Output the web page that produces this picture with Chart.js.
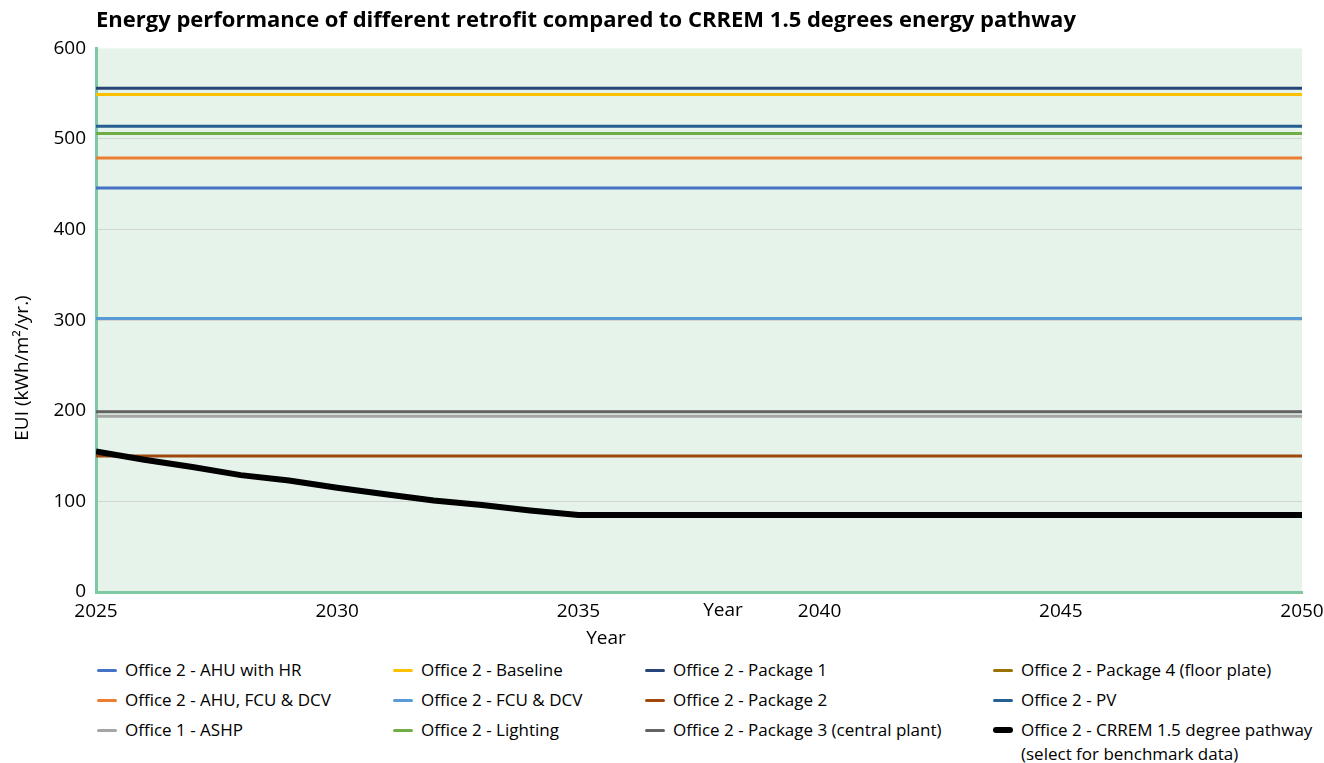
<!DOCTYPE html>
<html>
<head>
<meta charset="utf-8">
<script src="https://cdn.jsdelivr.net/npm/chart.js@4.4.1/dist/chart.umd.min.js"></script>
<style>
  body { margin: 0; background: #fff; font-family: "Open Sans", sans-serif; }
  #wrap { position: relative; width: 1324px; height: 763px; }
  #chart { position: absolute; left: 0; top: 0; }
  #legend { position: absolute; left: 97px; top: 658px; display: grid;
            grid-template-columns: 296px 252px 348px 330px; row-gap: 6px; grid-auto-flow: column;
            grid-template-rows: repeat(3, 24px); font-size: 17px; color: #000; }
  .item { display: flex; align-items: flex-start; white-space: nowrap; line-height: 24px; }
  .swatch { display: inline-block; width: 20px; height: 3px; margin: 11px 8px 0 0; border-radius: 2px; flex: none; }
</style>
</head>
<body>
<div id="wrap">
  <canvas id="chart" width="1324" height="652"></canvas>
  <div id="legend"></div>
</div>
<script>
// years for the flat retrofit lines (constant across the period)
const flatYears = [2025, 2050];

const ahuWithHr = [446, 446];
const ahuFcuDcv = [479, 479];
const office1Ashp = [194, 194];
const baseline = [549, 549];
const fcuDcv = [302, 302];
const lighting = [506, 506];
const package1 = [556, 556];
const package2 = [150, 150];
const package3 = [199, 199];
const package4 = [];            // not visible in the picture
const pv = [514, 514];

// CRREM 1.5 degree pathway
const crremYears = [2025, 2026, 2027, 2028, 2029, 2030, 2031, 2032, 2033, 2034, 2035, 2050];
const crremValues = [155, 146, 138, 129, 123, 115, 108, 101, 96, 90, 85, 85];

const yTicks = [0, 100, 200, 300, 400, 500, 600];
const xTicks = [2025, 2030, 2035, 2040, 2045, 2050];

const toPoints = (xs, ys) => ys.map((y, i) => ({ x: xs[i], y }));

const series = [
    { label: 'Office 2 - AHU with HR', data: toPoints(flatYears, ahuWithHr), color: '#4472C4' },
    { label: 'Office 2 - AHU, FCU & DCV', data: toPoints(flatYears, ahuFcuDcv), color: '#ED7D31' },
    { label: 'Office 1 - ASHP', data: toPoints(flatYears, office1Ashp), color: '#A5A5A5' },
    { label: 'Office 2 - Baseline', data: toPoints(flatYears, baseline), color: '#FFC000' },
    { label: 'Office 2 - FCU & DCV', data: toPoints(flatYears, fcuDcv), color: '#5B9BD5' },
    { label: 'Office 2 - Lighting', data: toPoints(flatYears, lighting), color: '#70AD47' },
    { label: 'Office 2 - Package 1', data: toPoints(flatYears, package1), color: '#264478' },
    { label: 'Office 2 - Package 2', data: toPoints(flatYears, package2), color: '#9E480E' },
    { label: 'Office 2 - Package 3 (central plant)', data: toPoints(flatYears, package3), color: '#636363' },
    { label: 'Office 2 - Package 4 (floor plate)', data: toPoints(flatYears, package4), color: '#997300' },
    { label: 'Office 2 - PV', data: toPoints(flatYears, pv), color: '#255E91' },
    { label: ['Office 2 - CRREM 1.5 degree pathway', '(select for benchmark data)'], data: toPoints(crremYears, crremValues), color: '#000000', width: 6 },
];

const plotBg = {
    id: 'plotBg',
    beforeDraw(chart) {
        const { ctx, chartArea: a } = chart;
        ctx.save();
        ctx.fillStyle = '#E5F3EA';
        ctx.fillRect(a.left, a.top, a.right - a.left, a.bottom - a.top);
        ctx.restore();
    }
};

// axis titles sit off-centre in the original, so they are drawn here
const axisText = {
    id: 'axisText',
    afterDraw(chart) {
        const { ctx } = chart;
        ctx.save();
        ctx.fillStyle = '#000';
        ctx.font = '19px "Open Sans"';
        ctx.textAlign = 'center';
        ctx.textBaseline = 'middle';
        ctx.fillText('Year', 606, 639);
        ctx.fillText('Year', 723, 611);
        ctx.translate(23, 368);
        ctx.rotate(-Math.PI / 2);
        ctx.fillText('EUI (kWh/m²/yr.)', 0, 0);
        ctx.restore();
    }
};

const chart = new Chart(document.getElementById('chart'), {
    type: 'line',
    data: {
        datasets: series.map(s => ({
            label: s.label,
            data: s.data,
            borderColor: s.color,
            backgroundColor: s.color,
            borderWidth: s.width || 3,
            pointRadius: 0,
            tension: 0,
            order: s.width ? 0 : 1,
        })),
    },
    options: {
        responsive: false,
        animation: false,
        devicePixelRatio: 1,
        layout: { padding: { left: 0, right: 22, top: 0, bottom: 0 } },
        plugins: {
            legend: { display: false },
            tooltip: { enabled: false },
            title: {
                display: true,
                text: 'Energy performance of different retrofit compared to CRREM 1.5 degrees energy pathway',
                align: 'start',
                fullSize: false,
                color: '#000',
                font: { family: 'Open Sans', size: 22, weight: 'bold', lineHeight: 1.2 },
                padding: { top: 8, bottom: 14 },
            },
        },
        scales: {
            x: {
                type: 'linear',
                min: 2025,
                max: 2050,
                afterBuildTicks: s => { s.ticks = xTicks.map(v => ({ value: v })); },
                afterFit: s => { s.height = 60; s.paddingLeft = 0; s.paddingRight = 0; },
                ticks: { color: '#000', font: { family: 'Open Sans', size: 19 }, padding: 8, maxRotation: 0,
                         callback: v => String(v) },
                grid: { display: false, drawTicks: false },
                border: { color: '#7FC8A4', width: 3 },
            },
            y: {
                min: 0,
                max: 600,
                afterBuildTicks: s => { s.ticks = yTicks.map(v => ({ value: v })); },
                afterFit: s => { s.width = 96; },
                ticks: { color: '#000', font: { family: 'Open Sans', size: 19 }, padding: 10 },
                grid: {
                    drawTicks: false,
                    color: c => (c.tick && (c.tick.value === 0 || c.tick.value === 600)) ? 'rgba(0,0,0,0)' : '#D4D4D4',
                    lineWidth: 1,
                },
                border: { color: '#7FC8A4', width: 3 },
            },
        },
    },
    plugins: [plotBg, axisText],
});

// legend laid out in columns like the original
const legendEl = document.getElementById('legend');
chart.data.datasets.forEach(ds => {
    const item = document.createElement('div');
    item.className = 'item';
    const sw = document.createElement('span');
    sw.className = 'swatch';
    sw.style.background = ds.borderColor;
    if (ds.borderWidth > 3) { sw.style.height = '6px'; sw.style.marginTop = '9px'; sw.style.borderRadius = '3px'; }
    const txt = document.createElement('span');
    txt.innerHTML = Array.isArray(ds.label) ? ds.label.join('<br>') : ds.label;
    item.appendChild(sw);
    item.appendChild(txt);
    legendEl.appendChild(item);
});
</script>
</body>
</html>
